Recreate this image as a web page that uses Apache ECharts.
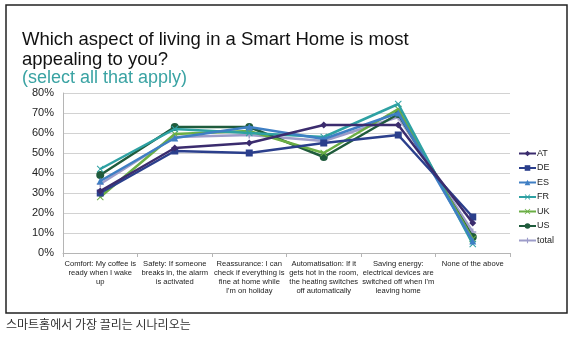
<!DOCTYPE html>
<html>
<head>
<meta charset="utf-8">
<script src="https://cdn.jsdelivr.net/npm/echarts@6/dist/echarts.min.js"></script>
<style>
html,body{margin:0;padding:0;background:#fff;}
#chart{width:574px;height:346px;}
</style>
</head>
<body>
<div id="chart"></div>
<script>
var categories = [
  "Comfort: My coffee is\nready when I wake\nup",
  "Safety: If someone\nbreaks in, the alarm\nis activated",
  "Reassurance: I can\ncheck if everything is\nfine at home while\nI'm on holiday",
  "Automatisation: If it\ngets hot in the room,\nthe heating switches\noff automatically",
  "Saving energy:\nelectrical devices are\nswitched off when I'm\nleaving home",
  "None of the above"
];
var yTicks = [0, 10, 20, 30, 40, 50, 60, 70, 80];
var seriesNames = ["AT", "DE", "ES", "FR", "UK", "US", "total"];
var AT    = [31, 52.5, 55, 64, 64, 15];
var DE    = [30, 51, 50, 55, 59, 18];
var ES    = [36, 57.5, 63, 57, 70, 6];
var FR    = [42, 62, 60, 58, 74.5, 4.5];
var UK    = [28, 59.5, 61, 50, 72, 7];
var US    = [39, 63, 63, 48, 69.5, 8];
var total = [34.5, 58, 59, 56, 68, 10.5];

var seriesData = [AT, DE, ES, FR, UK, US, total];
var colors = ["#3b2c6e", "#2b3f8c", "#3f7fc4", "#2ea1a3", "#6bae45", "#1f5b3c", "#9d9cc9"];
var crossPath = 'path://M0,1 L1,0 L5,4 L9,0 L10,1 L6,5 L10,9 L9,10 L5,6 L1,10 L0,9 L4,5Z';
var plusPath = 'path://M4,0H6V4H10V6H6V10H4V6H0V4H4Z';
var symbols = ["diamond", "rect", "triangle", crossPath, crossPath, "circle", plusPath];
var sizes = [7, 7, 7, 7, 7, 8, 7];

var chart = echarts.init(document.getElementById('chart'), null, {renderer: 'canvas'});
var series = seriesNames.map(function (n, i) {
  return {
    name: n,
    type: 'line',
    data: seriesData[i],
    symbol: symbols[i],
    symbolSize: sizes[i],
    showAllSymbol: true,
    lineStyle: {width: 2.5, color: colors[i]},
    itemStyle: {color: colors[i]},
    z: 10 - i
  };
});

chart.setOption({
  animation: false,
  textStyle: {fontFamily: 'Liberation Sans, Arial, sans-serif'},
  title: [
    {
      text: 'Which aspect of living in a Smart Home is most\nappealing to you?',
      left: 17, top: 25,
      textStyle: {fontSize: 18.5, fontWeight: 'normal', color: '#111', lineHeight: 20, fontFamily: 'Liberation Sans, Arial, sans-serif'}
    },
    {
      text: '(select all that apply)',
      left: 17, top: 64,
      textStyle: {fontSize: 18, fontWeight: 'normal', color: '#3aa3a3', fontFamily: 'Liberation Sans, Arial, sans-serif'}
    }
  ],
  grid: {left: 63, right: 64, top: 93, bottom: 93, containLabel: false},
  legend: {
    orient: 'vertical',
    left: 518, top: 149, padding: 0,
    itemWidth: 17, itemHeight: 7, itemGap: 5.5,
    data: seriesNames,
    textStyle: {fontSize: 9, color: '#222', padding: [0, 0, 0, -4]}
  },
  xAxis: {
    type: 'category',
    data: categories,
    boundaryGap: true,
    axisLine: {lineStyle: {color: '#b5b5b5', width: 1}},
    axisTick: {show: true, length: 4, lineStyle: {color: '#b5b5b5'}},
    axisLabel: {interval: 0, fontSize: 7.6, lineHeight: 9, color: '#222', margin: 6}
  },
  yAxis: {
    type: 'value',
    min: 0, max: 80, interval: 10,
    axisLine: {show: true, lineStyle: {color: '#b5b5b5'}},
    axisTick: {show: false},
    splitLine: {lineStyle: {color: '#d2d2d2', width: 1}},
    axisLabel: {fontSize: 11, color: '#222', margin: 9, formatter: function (v) { return yTicks.indexOf(v) >= 0 ? v + '%' : ''; }}
  },
  graphic: [
    {type: 'rect', shape: {x: 6, y: 5, width: 561, height: 308}, style: {fill: 'none', stroke: '#222', lineWidth: 1.5}, z: -1},
    {type: 'text', left: 6, top: 318, style: {text: '스마트홈에서 가장 끌리는 시나리오는', fontSize: 12, fill: '#333', fontFamily: 'Noto Sans CJK KR'}}
  ],
  series: series
});
</script>
</body>
</html>
